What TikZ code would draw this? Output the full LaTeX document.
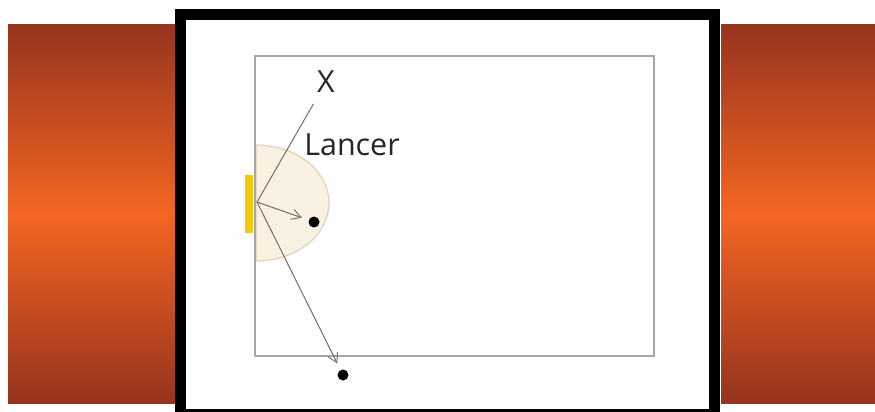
\documentclass[tikz,border=0pt]{standalone}
\usepackage{fontspec}
\newfontfamily\labelfont{Open Sans}
\usetikzlibrary{arrows.meta}

\begin{document}
\begin{tikzpicture}[
    x=0.03cm, y=-0.03cm,
    panel/.style={top color=rust, bottom color=rust, middle color=flame},
    dot/.style={circle, fill=black, minimum size=11*0.03cm, inner sep=0pt},
    throw/.style={draw=throwgrey, line width=0.9pt},
    >={Straight Barb[length=8pt, width=9pt, line width=0.8pt]}
]
\definecolor{rust}{RGB}{150,52,31}
\definecolor{flame}{RGB}{244,102,34}
\definecolor{throwgrey}{RGB}{125,112,112}
\definecolor{fieldgrey}{RGB}{170,165,168}
\definecolor{zonefill}{RGB}{249,241,226}
\definecolor{zoneline}{RGB}{226,208,186}
\definecolor{goalyellow}{RGB}{246,200,10}

\useasboundingbox (0,0) rectangle (875,411);
\clip (0,0) rectangle (875,411);
\fill[white] (0,0) rectangle (875,411);

% ======================
% Side panels
% ======================
\shade[panel] (8,24) rectangle (175,403);
\shade[panel] (721,24) rectangle (875,403);

% ======================
% Frame
% ======================
\draw[line width=11*0.03cm, black] (180.5,14.5) rectangle (714,414);

% ======================
% Field
% ======================
% Throwing zone (half ellipse)
\draw[fill=zonefill, draw=zoneline, line width=1.2*0.03cm]
    (256,145) arc[start angle=-90, end angle=90, x radius=73, y radius=58] -- cycle;

\draw[fieldgrey, line width=1.4*0.03cm] (255,56) rectangle (654,356);

% Goal
\fill[goalyellow] (245,175) rectangle (253,233);

% ======================
% Throws
% ======================
\coordinate (thrower) at (257,202);
\node[font=\labelfont\fontsize{26}{30}\selectfont, text=black!85, inner sep=4pt] (X) at (326,82) {X};
\node[font=\labelfont\fontsize{26}{30}\selectfont, text=black!85] (lancer) at (352,145) {Lancer};
\node[dot] (near) at (314,222) {};
\node[dot] (far) at (343,375) {};

\draw[throw, shorten >=6pt] (thrower) -- (X);
\draw[throw, ->, shorten >=6pt] (thrower) -- (near);
\draw[throw, ->, shorten >=6pt] (thrower) -- (far);

\end{tikzpicture}
\end{document}
